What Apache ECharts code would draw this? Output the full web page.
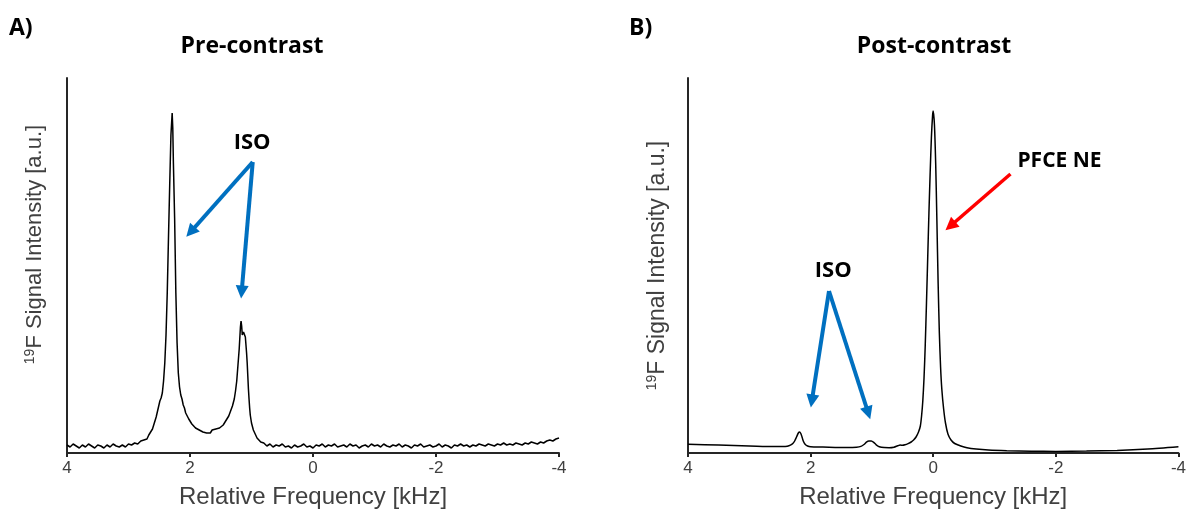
<!DOCTYPE html>
<html>
<head>
<meta charset="utf-8">
<script src="https://cdn.jsdelivr.net/npm/echarts@6/dist/echarts.min.js"></script>
<style>
  html, body { margin: 0; padding: 0; background: #ffffff; }
  #chart { width: 1189px; height: 519px; }
</style>
</head>
<body>
<div id="chart"></div>
<script>
// 19F spectra, relative frequency [kHz] vs. signal intensity [a.u.]
const freqTicks = [4, 2, 0, -2, -4];

// Pre-contrast spectrum: [frequency kHz, intensity a.u.]
const spectrumPre = [
  [4.00,8],[3.95,6],[3.90,9],[3.85,7],[3.80,5],[3.75,8],[3.70,6],[3.65,9],[3.60,7],[3.55,5],
  [3.50,8],[3.45,7],[3.40,5],[3.35,8],[3.30,6],[3.25,9],[3.20,7],[3.15,6],[3.10,8],[3.05,6],
  [3.00,9],[2.95,8],[2.90,10],[2.85,9],[2.80,12],[2.75,13],[2.72,15],[2.70,14],[2.67,18],[2.64,20],
  [2.61,24],[2.58,30],[2.55,36],[2.52,44],[2.49,52],[2.47,55],[2.45,60],[2.43,72],[2.41,90],[2.39,118],
  [2.37,160],[2.35,215],[2.33,268],[2.31,318],[2.29,340],[2.28,325],[2.27,290],[2.25,235],[2.23,160],[2.21,110],
  [2.19,80],[2.17,66],[2.15,58],[2.13,54],[2.11,48],[2.09,45],[2.07,40],[2.05,38],[2.02,34],[2.00,32],
  [1.97,29],[1.94,28],[1.91,25],[1.88,26],[1.85,23],[1.82,24],[1.79,21],[1.76,23],[1.73,20],[1.70,22],
  [1.67,20],[1.64,23],[1.61,21],[1.58,24],[1.55,22],[1.52,25],[1.49,26],[1.46,28],[1.43,31],[1.40,33],
  [1.37,37],[1.34,42],[1.31,47],[1.28,54],[1.26,62],[1.24,72],[1.22,88],[1.20,104],[1.18,126],[1.17,132],
  [1.16,127],[1.15,118],[1.14,117],[1.13,121],[1.12,123],[1.11,122],[1.10,116],[1.09,108],[1.08,100],[1.07,90],
  [1.06,77],[1.05,64],[1.04,54],[1.03,45],[1.02,38],[1.00,30],[0.97,23],[0.94,19],[0.91,15],[0.88,13],
  [0.85,11],[0.82,9],[0.80,10],[0.75,7],[0.70,9],[0.65,6],[0.60,8],[0.55,7],[0.50,9],[0.45,6],
  [0.40,7],[0.35,5],[0.30,8],[0.25,6],[0.20,7],[0.15,9],[0.10,6],[0.05,7],[0.00,5],[-0.05,8],
  [-0.10,7],[-0.15,9],[-0.20,6],[-0.25,8],[-0.30,7],[-0.35,9],[-0.40,6],[-0.45,7],[-0.50,8],[-0.55,6],
  [-0.60,9],[-0.65,7],[-0.70,8],[-0.75,5],[-0.80,7],[-0.85,8],[-0.90,6],[-0.95,9],[-1.00,7],[-1.05,8],
  [-1.10,6],[-1.15,9],[-1.20,7],[-1.25,6],[-1.30,8],[-1.35,7],[-1.40,9],[-1.45,6],[-1.50,8],[-1.55,7],
  [-1.60,5],[-1.65,8],[-1.70,7],[-1.75,9],[-1.80,6],[-1.85,7],[-1.90,8],[-1.95,6],[-2.00,7],[-2.05,9],
  [-2.10,6],[-2.15,8],[-2.20,7],[-2.25,5],[-2.30,8],[-2.35,7],[-2.40,9],[-2.45,7],[-2.50,8],[-2.55,6],
  [-2.60,8],[-2.65,7],[-2.70,9],[-2.75,8],[-2.80,7],[-2.85,9],[-2.90,8],[-2.95,7],[-3.00,9],[-3.05,8],
  [-3.10,10],[-3.15,8],[-3.20,9],[-3.25,8],[-3.30,10],[-3.35,9],[-3.40,8],[-3.45,10],[-3.50,9],[-3.55,11],
  [-3.60,10],[-3.65,9],[-3.70,11],[-3.75,10],[-3.80,12],[-3.85,13],[-3.90,12],[-3.95,14],[-4.00,15]
];

// Post-contrast spectrum: [frequency kHz, intensity a.u.]
const spectrumPost = [
  [4.00,8.7],[3.50,7.9],[3.00,7.1],[2.60,6.4],[2.45,6.4],[2.38,6.8],[2.33,7.8],[2.29,9.5],[2.26,12],[2.23,16],
  [2.20,20],[2.18,21],[2.16,19.5],[2.14,16],[2.12,12],[2.09,8.8],[2.05,7],[2.00,6.2],[1.80,5.9],[1.60,5.6],
  [1.40,5.5],[1.25,5.8],[1.18,6.6],[1.13,8.5],[1.09,10.8],[1.05,12],[1.01,12],[0.97,10.6],[0.93,8.2],[0.88,6.3],
  [0.80,5.4],[0.72,5.3],[0.64,5.8],[0.58,7.2],[0.54,8],[0.50,7.7],[0.46,8.2],[0.41,9.4],[0.36,11],[0.32,13],
  [0.28,16],[0.24,21],[0.21,27],[0.19,37],[0.17,52],[0.15,75],[0.13,108],[0.11,150],[0.09,195],[0.07,240],
  [0.05,280],[0.03,315],[0.01,338],[0.00,342],[-0.02,328],[-0.04,290],[-0.06,232],[-0.08,170],[-0.10,120],[-0.12,86],
  [-0.14,64],[-0.17,44],[-0.20,30],[-0.24,19],[-0.29,13],[-0.35,9.5],[-0.45,7],[-0.55,5.3],[-0.70,4],[-0.90,3],
  [-1.20,2.3],[-1.60,1.8],[-2.00,1.6],[-2.50,1.9],[-3.00,2.6],[-3.50,4],[-4.00,6.2]
];

// Annotation anchors in data units [kHz, a.u.]
const isoPreLabel = [0.99, 310];
const isoPreArrows = [[[0.98, 291], [1.99, 221]], [[0.98, 291], [1.16, 161]]];
const isoPostLabel = [1.63, 182];
const isoPostArrows = [[[1.70, 162], [1.98, 52]], [[1.70, 162], [1.06, 40]]];
const pfceLabel = [-2.06, 292];
const pfceArrow = [[-1.26, 279], [-0.28, 227]];

const AXIS_COLOR = '#262626';
const TEXT_COLOR = '#404040';
const BLUE = '#0070C0';
const RED = '#FF0000';
const BOLD_FONT = '"Open Sans", "Noto Sans", sans-serif';
const SANS = '"Liberation Sans", Arial, sans-serif';

function xAxisFor(gridIndex) {
  return {
    gridIndex,
    type: 'value',
    min: -4, max: 4, interval: 2, inverse: true,
    name: 'Relative Frequency [kHz]',
    nameLocation: 'middle',
    nameGap: 32,
    nameTextStyle: { color: TEXT_COLOR, fontSize: 24, fontFamily: SANS },
    axisLine: { show: true, onZero: false, lineStyle: { color: AXIS_COLOR, width: 2 } },
    axisTick: { show: true, inside: false, length: 4, lineStyle: { color: AXIS_COLOR, width: 2 } },
    axisLabel: {
      color: TEXT_COLOR, fontSize: 17, fontFamily: SANS, margin: 7,
      formatter: v => (freqTicks.includes(v) ? String(v) : '')
    },
    splitLine: { show: false }
  };
}

function yAxisFor(gridIndex, fontSize, shift, gap) {
  return {
    gridIndex,
    type: 'value',
    min: 0, max: 375,
    name: '{sup|19}{m|F Signal Intensity [a.u.]}',
    nameLocation: 'middle',
    nameRotate: 90,
    nameGap: gap,
    nameTextStyle: {
      color: TEXT_COLOR, fontFamily: SANS, fontSize,
      padding: [0, 0, 0, shift],
      rich: {
        sup: { fontSize: Math.round(fontSize * 0.62), color: TEXT_COLOR, fontFamily: SANS, verticalAlign: 'top', lineHeight: fontSize + 2 },
        m: { fontSize, color: TEXT_COLOR, fontFamily: SANS, lineHeight: fontSize + 2 }
      }
    },
    axisLine: { show: true, onZero: false, lineStyle: { color: AXIS_COLOR, width: 2 } },
    axisTick: { show: false },
    axisLabel: { show: false },
    splitLine: { show: false }
  };
}

function arrowLines(pairs, color, width) {
  return {
    silent: true,
    symbol: ['none', 'triangle'],
    symbolSize: [13, 13],
    label: { show: false },
    emphasis: { disabled: true },
    lineStyle: { color, width, type: 'solid' },
    data: pairs.map(p => [{ coord: p[0] }, { coord: p[1] }])
  };
}

function textMark(coord, text, size) {
  return {
    silent: true,
    symbol: 'circle',
    symbolSize: 1,
    itemStyle: { color: 'rgba(0,0,0,0)' },
    label: {
      show: true, position: 'inside', formatter: text,
      color: '#000', fontSize: size, fontWeight: 'bold', fontFamily: BOLD_FONT
    },
    data: [{ coord }]
  };
}

const chart = echarts.init(document.getElementById('chart'), null, { renderer: 'canvas' });

chart.setOption({
  animation: false,
  backgroundColor: '#ffffff',
  grid: [
    { left: 67, right: 630, top: 78, bottom: 66 },
    { left: 688, right: 8, top: 78, bottom: 66 }
  ],
  xAxis: [xAxisFor(0), xAxisFor(1)],
  yAxis: [yAxisFor(0, 22, 42, 20), yAxisFor(1, 23, 0, 18)],
  graphic: [
    { type: 'text', x: 9, y: 28, style: { text: 'A)', font: 'bold 23px ' + BOLD_FONT, fill: '#000', textVerticalAlign: 'middle' } },
    { type: 'text', x: 629, y: 28, style: { text: 'B)', font: 'bold 23px ' + BOLD_FONT, fill: '#000', textVerticalAlign: 'middle' } },
    { type: 'text', x: 252, y: 46, style: { text: 'Pre-contrast', font: 'bold 23px ' + BOLD_FONT, fill: '#000', textAlign: 'center', textVerticalAlign: 'middle' } },
    { type: 'text', x: 934, y: 46, style: { text: 'Post-contrast', font: 'bold 23px ' + BOLD_FONT, fill: '#000', textAlign: 'center', textVerticalAlign: 'middle' } }
  ],
  series: [
    {
      type: 'line', xAxisIndex: 0, yAxisIndex: 0,
      data: spectrumPre, showSymbol: false, symbol: 'none', silent: true,
      lineStyle: { color: '#000', width: 1.5 },
      markLine: arrowLines(isoPreArrows, BLUE, 4),
      markPoint: textMark(isoPreLabel, 'ISO', 22)
    },
    {
      type: 'line', xAxisIndex: 1, yAxisIndex: 1,
      data: spectrumPost, showSymbol: false, symbol: 'none', silent: true, smooth: 0.25,
      lineStyle: { color: '#000', width: 1.5 },
      markLine: arrowLines(isoPostArrows, BLUE, 4),
      markPoint: textMark(isoPostLabel, 'ISO', 22)
    },
    {
      type: 'line', xAxisIndex: 1, yAxisIndex: 1,
      data: [], showSymbol: false, silent: true,
      markLine: arrowLines([pfceArrow], RED, 3.5),
      markPoint: textMark(pfceLabel, 'PFCE NE', 21)
    }
  ]
});
</script>
</body>
</html>
